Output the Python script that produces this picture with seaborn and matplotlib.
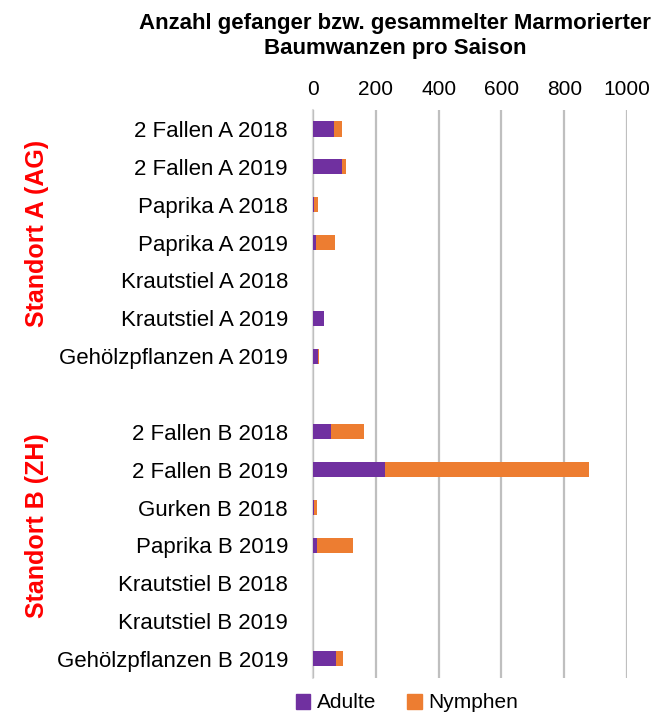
import matplotlib
matplotlib.use('Agg')
import matplotlib.pyplot as plt
import matplotlib.patches as mpatches
import seaborn as sns
import pandas as pd

# data
labels_a = ['2 Fallen A 2018', '2 Fallen A 2019', 'Paprika A 2018', 'Paprika A 2019',
            'Krautstiel A 2018', 'Krautstiel A 2019', 'Gehölzpflanzen A 2019']
adulte_a = [67, 94, 4, 10, 0, 34, 17]
nymphen_a = [27, 12, 12, 60, 0, 0, 3]

labels_b = ['2 Fallen B 2018', '2 Fallen B 2019', 'Gurken B 2018', 'Paprika B 2019',
            'Krautstiel B 2018', 'Krautstiel B 2019', 'Gehölzpflanzen B 2019']
adulte_b = [57, 228, 2, 12, 0, 0, 73]
nymphen_b = [104, 652, 12, 114, 0, 0, 22]

x_ticks = [0, 200, 400, 600, 800, 1000]
purple = '#7030A0'
orange = '#ED7D31'

sns.set_theme(style='white')
plt.rcParams['font.family'] = ['Liberation Sans', 'DejaVu Sans']
plt.rcParams['text.color'] = 'black'

# spacer row between the two sites
df = pd.DataFrame({
    'label': labels_a + [' '] + labels_b,
    'Adulte': adulte_a + [0] + adulte_b,
    'Nymphen': nymphen_a + [0] + nymphen_b,
})
df['total'] = df['Adulte'] + df['Nymphen']

fig = plt.figure(figsize=(6.52, 7.15), dpi=100)
ax = fig.add_axes([0.48, 0.052, 0.4817, 0.794])

sns.barplot(data=df, y='label', x='total', color=orange, width=0.4,
            saturation=1, linewidth=0, ax=ax, orient='h')
sns.barplot(data=df, y='label', x='Adulte', color=purple, width=0.4,
            saturation=1, linewidth=0, ax=ax, orient='h')

ax.set_xlim(0, 1000)
ax.set_xticks(x_ticks)
ax.xaxis.tick_top()
ax.tick_params(axis='both', length=0, labelsize=15, labelcolor='black')
ax.tick_params(axis='y', labelsize=16, pad=18)
ax.tick_params(axis='x', pad=8)
ax.set_xlabel('')
ax.set_ylabel('')
ax.grid(axis='x', color='#BFBFBF', linewidth=1.6)
ax.set_axisbelow(True)
# value axis line at 0 (lighter, like the reference)
ax.axvline(0, color='#D9D9D9', linewidth=1.6, clip_on=False, zorder=0)
for s in ax.spines.values():
    s.set_visible(False)

fig.text(0.606, 0.950, 'Anzahl gefanger bzw. gesammelter Marmorierter\nBaumwanzen pro Saison',
         ha='center', va='center', fontsize=16, fontweight='bold', linespacing=1.25,
         color='black')

fig.text(37 / 652, 1 - 233 / 715, 'Standort A (AG)', rotation=90, color='#FF0000',
         fontsize=18, fontweight='bold', ha='center', va='center')
fig.text(37 / 652, 1 - 526 / 715, 'Standort B (ZH)', rotation=90, color='#FF0000',
         fontsize=18, fontweight='bold', ha='center', va='center')

handles = [mpatches.Patch(color=purple, label='Adulte'),
           mpatches.Patch(color=orange, label='Nymphen')]
fig.legend(handles=handles, loc='center', bbox_to_anchor=(407 / 652, 1 - 703 / 715),
           ncol=2, frameon=False, fontsize=15, handlelength=0.7, handleheight=0.7,
           handletextpad=0.3, columnspacing=1.5, borderpad=0.1)

fig.savefig('out.png', dpi=100)
